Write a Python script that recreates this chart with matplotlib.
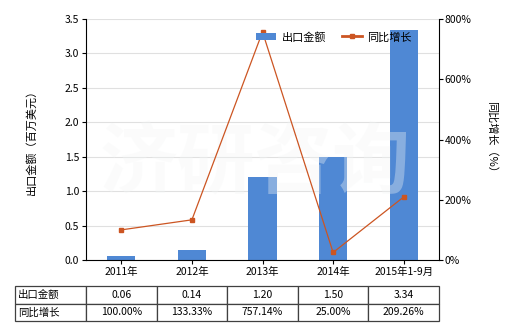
import matplotlib
matplotlib.use("Agg")
import matplotlib.pyplot as plt
import numpy as np

plt.rcParams['font.family'] = ['Noto Sans CJK SC', 'DejaVu Sans']

years = ['2011年', '2012年', '2013年', '2014年', '2015年1-9月']
export_value = [0.06, 0.14, 1.20, 1.50, 3.34]
growth_pct = [100.00, 133.33, 757.14, 25.00, 209.26]
export_labels = ['0.06', '0.14', '1.20', '1.50', '3.34']
growth_labels = ['100.00%', '133.33%', '757.14%', '25.00%', '209.26%']

bar_color = '#4f88d4'
line_color = '#cc5522'
fs = 7.5

fig = plt.figure(figsize=(5.2, 3.3), dpi=100)
W, H = 520, 330
ax = fig.add_axes([86 / W, 1 - 260 / H, (439 - 86) / W, (260 - 19) / H])

x = np.arange(len(years))
ax.bar(x, export_value, width=0.4, color=bar_color, label='出口金额', zorder=2)
ax.set_ylim(0, 3.5)
ax.set_xlim(-0.5, len(years) - 0.5)
ax.set_yticks(np.arange(0, 3.51, 0.5))
ax.set_yticklabels([f'{v:.1f}' for v in np.arange(0, 3.51, 0.5)], fontsize=fs)
ax.set_xticks(x)
ax.set_xticklabels(years, fontsize=fs)
ax.grid(True, axis='y', color='#e0e0e0', linewidth=0.8, zorder=0)
ax.set_axisbelow(True)
for s in ['top', 'right']:
    ax.spines[s].set_visible(False)
ax.tick_params(axis='both', length=3, width=0.8, pad=2)
ax.set_ylabel('出口金额（百万美元）', fontsize=fs + 0.5, labelpad=20)

# faint watermark, above the bars but under the line
ax.text(255 / W, 1 - 165 / H, '济研咨询', transform=fig.transFigure, fontsize=56,
        color='#f4f6f6', alpha=0.35, ha='center', va='center',
        fontweight='bold', zorder=5)

ax2 = ax.twinx()
ax2.plot(x, growth_pct, color=line_color, linewidth=0.9, marker='s',
         markersize=3.5, label='同比增长', zorder=3)
ax2.set_ylim(0, 800)
ax2.set_yticks([0, 200, 400, 600, 800])
ax2.set_yticklabels(['0%', '200%', '400%', '600%', '800%'], fontsize=fs)
for s in ['top', 'left', 'bottom']:
    ax2.spines[s].set_visible(False)
ax2.tick_params(axis='y', length=3, width=0.8, pad=1)
ax2.set_ylabel('同比增长（%）', fontsize=fs + 0.5, rotation=-90, labelpad=18)

h1, l1 = ax.get_legend_handles_labels()
h2, l2 = ax2.get_legend_handles_labels()
leg = fig.legend(h1 + h2, l1 + l2, loc='center', bbox_to_anchor=(334 / W, 1 - 37 / H),
                 ncol=2, frameon=False, fontsize=8, handlelength=1.8,
                 columnspacing=1.4, handletextpad=0.5)
leg.get_lines()[0].set_linewidth(2)

# data table below the axis
tax = fig.add_axes([15 / W, 1 - 321 / H, (439 - 15) / W, (321 - 286) / H])
tax.axis('off')
cells = [['出口金额'] + export_labels, ['同比增长'] + growth_labels]
first_w = 71 / (439 - 15)
col_w = [first_w] + [(1 - first_w) / 5] * 5
tbl = tax.table(cellText=cells, colWidths=col_w, bbox=[0, 0, 1, 1], cellLoc='center')
tbl.auto_set_font_size(False)
tbl.set_fontsize(fs)
for (r, c), cell in tbl.get_celld().items():
    cell.set_edgecolor('#404040')
    cell.set_linewidth(0.9)
    if c == 0:
        cell._loc = 'left'
        cell.PAD = 0.04
        cell.get_text().set_horizontalalignment('left')

fig.savefig('out.png', dpi=100)
